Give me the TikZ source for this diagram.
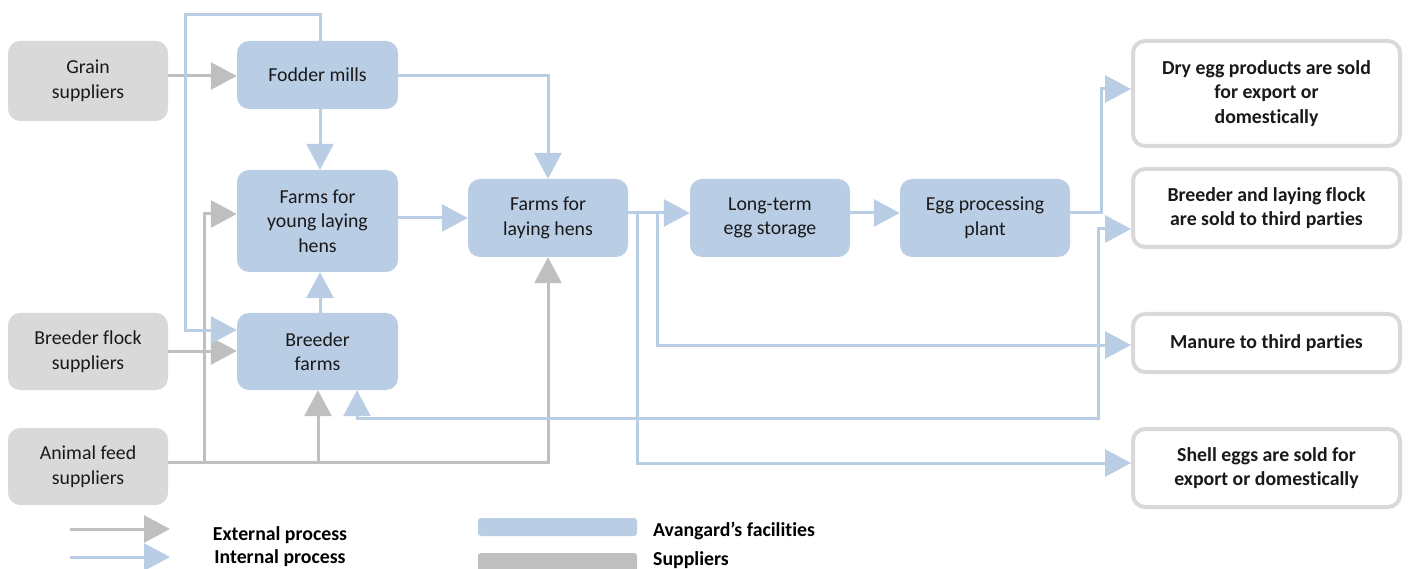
\documentclass[tikz,border=0pt]{standalone}
\usepackage{fontspec}
\setmainfont[Ligatures=NoCommon]{Carlito}
\usetikzlibrary{arrows.meta}
\definecolor{blu}{HTML}{B9CDE5}
\definecolor{gryfill}{HTML}{D9D9D9}
\definecolor{gryline}{HTML}{BFBFBF}
\begin{document}
\begin{tikzpicture}[x=1pt,y=-1pt,
 box/.style={rounded corners=12pt, align=center, inner sep=0pt, font=\fontsize{19.8}{24.5}\selectfont, text=black!90},
 fac/.style={box, fill=blu},
 sup/.style={box, fill=gryfill},
 outb/.style={box, draw=gryfill, line width=4pt, fill=white, font=\fontsize{19.8}{24.5}\selectfont\bfseries, minimum width=267pt},
 intl/.style={draw=blu, line width=3pt, -{Triangle[length=26pt,width=27pt]}},
 extl/.style={draw=gryline, line width=3pt, -{Triangle[length=26pt,width=27pt]}},
 legtext/.style={font=\fontsize{19.8}{24.5}\selectfont\bfseries, inner sep=0pt},
]
\useasboundingbox (0,0) rectangle (1408,569);

% nodes
\node[sup, minimum width=160pt, minimum height=80pt] (grain) at (88,81) {Grain\\suppliers};
\node[sup, minimum width=160pt, minimum height=77pt] (bflock) at (88,351.5) {Breeder flock\\suppliers};
\node[sup, minimum width=160pt, minimum height=77pt] (afeed) at (88,466.5) {Animal feed\\suppliers};
\node[fac, minimum width=161pt, minimum height=68pt] (fodder) at (317.5,75) {Fodder mills};
\node[fac, minimum width=161pt, minimum height=102pt] (young) at (317.5,221) {Farms for\\young laying\\hens};
\node[fac, minimum width=161pt, minimum height=77pt] (breeder) at (317.5,351.5) {Breeder\\farms};
\node[fac, minimum width=160pt, minimum height=78pt] (laying) at (548,218) {Farms for\\laying hens};
\node[fac, minimum width=160pt, minimum height=78pt] (storage) at (770,218) {Long-term\\egg storage};
\node[fac, minimum width=170pt, minimum height=78pt] (eggproc) at (985,218) {Egg processing\\plant};
\node[outb, minimum height=105pt] (dry) at (1266.5,93.5) {Dry egg products are sold\\for export or\\domestically};
\node[outb, minimum height=78pt] (flock) at (1266.5,208) {Breeder and laying flock\\are sold to third parties};
\node[outb, minimum height=58pt] (manure) at (1266.5,343) {Manure to third parties};
\node[outb, minimum height=78pt] (shell) at (1266.5,468) {Shell eggs are sold for\\export or domestically};

% external (grey) connectors
\draw[extl] (grain.east |- 0,76) -- (fodder.west |- 0,76);
\draw[extl] (bflock.east |- 0,351) -- (breeder.west |- 0,351);
\draw[extl] (afeed.east |- 0,462) -| (laying.south);
\coordinate (g1) at (204,462);
\draw[extl] (g1) |- (young.west |- 0,214);
\coordinate (g2) at (318,462);
\draw[extl] (g2) -- (breeder.south -| g2);

% internal (blue) connectors
\draw[intl] ([xshift=2.5pt]fodder.north) -- ++(0,-26) -| (185,330) -- (breeder.west |- 0,330);
\draw[intl] ([xshift=2.5pt]fodder.south) -- ([xshift=2.5pt]young.north);
\draw[intl] ([xshift=2.5pt]breeder.north) -- ([xshift=2.5pt]young.south);
\draw[intl] (fodder.east |- 0,76) -| (laying.north);
\draw[intl] (young.east |- 0,218) -- (laying.west |- 0,218);
\draw[intl] (laying.east |- 0,213) -- (storage.west |- 0,213);
\draw[intl] (storage.east |- 0,213) -- (eggproc.west |- 0,213);
\draw[intl] (eggproc.east |- 0,213) -- (1101,213) |- (dry.west |- 0,89);
\coordinate (s1) at (637,213);
\coordinate (s2) at (657,213);
\draw[intl] (s1) |- (shell.west |- 0,463);
\draw[intl] (s2) |- (manure.west |- 0,345);
\draw[draw=blu, line width=3pt, {Triangle[length=26pt,width=27pt]}-{Triangle[length=26pt,width=27pt]}]
  (breeder.south -| 357,0) |- (1098,418) |- (flock.west |- 0,229);

% legend
\coordinate (le1) at (70,529);
\coordinate (le2) at (170,529);
\draw[extl] (le1) -- (le2);
\node[legtext] (lt1) at (280,535) {External process};
\coordinate (li1) at (70,557);
\coordinate (li2) at (170,557);
\draw[intl] (li1) -- (li2);
\node[legtext] (lt2) at (280,558) {Internal process};
\node[fill=blu, rounded corners=3pt, minimum width=159pt, minimum height=18pt, inner sep=0pt] (lb1) at (557.5,527) {};
\node[fill=gryline, rounded corners=3pt, minimum width=159pt, minimum height=20pt, inner sep=0pt] (lb2) at (557.5,563) {};
\node[legtext, anchor=west] (lt3) at (653,531) {Avangard’s facilities};
\node[legtext, anchor=west] (lt4) at (653,560) {Suppliers};
\end{tikzpicture}
\end{document}
